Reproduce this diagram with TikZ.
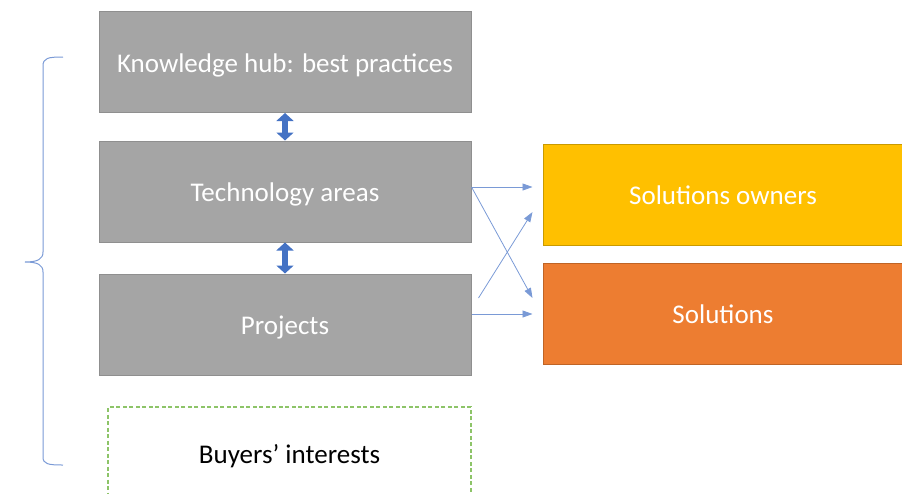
\documentclass[tikz,border=0pt]{standalone}
\usepackage{fontspec}
\setmainfont{Carlito}
\usetikzlibrary{arrows.meta}
\definecolor{boxgray}{HTML}{A5A5A5}
\definecolor{boxgrayb}{HTML}{8F8F8F}
\definecolor{gold}{HTML}{FFC000}
\definecolor{goldb}{HTML}{C99A00}
\definecolor{orng}{HTML}{ED7D31}
\definecolor{orngb}{HTML}{BF6426}
\definecolor{blu}{HTML}{4472C4}
\definecolor{bluline}{HTML}{7A9AD6}
\definecolor{grn}{HTML}{8DC468}
\tikzset{
  txt/.style={text height=22pt, text depth=1.4pt, font=\fontsize{27}{31}\selectfont},
  box/.style={rectangle, minimum width=372pt, minimum height=101pt, inner sep=0pt, txt},
  graybox/.style={box, fill=boxgray, draw=boxgrayb, line width=1pt, text=white},
  colbox/.style={rectangle, minimum width=360pt, minimum height=101pt, inner sep=0pt, text=white, line width=1pt, txt},
  dblarrow/.style={line width=6.5pt, draw=blu, {Triangle[width=17pt,length=8pt]}-{Triangle[width=17pt,length=8pt]}},
  thinarrow/.style={draw=bluline, line width=0.8pt, -{Triangle[width=7pt,length=10pt]}, color=bluline},
}
\begin{document}
\begin{tikzpicture}[x=1pt,y=-1pt]
\useasboundingbox (0,0) rectangle (902,493);
\clip (0,0) rectangle (902,493);
\node[graybox] (kh) at (285,62) {Knowledge hub: best practices};
\node[graybox] (ta) at (285,191.5) {Technology areas};
\node[graybox] (pr) at (285,324.5) {Projects};
\node[box, draw=grn, dash pattern=on 4pt off 2.5pt, line width=1.3pt, minimum width=363pt, minimum height=92pt, text=black] (bi) at (289.5,453) {Buyers’ interests};
\node[colbox, fill=gold, draw=goldb] (so) at (723,194.5) {Solutions owners};
\node[colbox, fill=orng, draw=orngb] (sl) at (723,313.5) {Solutions};
\draw[dblarrow] (kh.south) -- (ta.north);
\draw[dblarrow] (ta.south) -- (pr.north);
\coordinate (a1s) at (ta.east |- 0,187);
\coordinate (a1e) at ([xshift=-10pt]so.west |- 0,187);
\coordinate (a2e) at ([xshift=-10pt]sl.west |- 0,298);
\coordinate (a3s) at ([xshift=7pt]pr.east |- 0,298);
\coordinate (a3e) at ([xshift=-10pt]so.west |- 0,212);
\coordinate (a4s) at (pr.east |- 0,314);
\coordinate (a4e) at ([xshift=-10pt]sl.west |- 0,314);
\draw[thinarrow] (a1s) -- (a1e);
\draw[thinarrow] (a1s) -- (a2e);
\draw[thinarrow] (a3s) -- (a3e);
\draw[thinarrow] (a4s) -- (a4e);
\coordinate (brtop) at (63,57);
\coordinate (brbot) at (63,465);
\coordinate (brtip) at (25,262);
\draw[bluline, line width=1pt] (brtop) .. controls (48,57) and (43,58) .. (43,66) -- (43,252) .. controls (43,259) and (38,262) .. (brtip) .. controls (38,262) and (43,265) .. (43,272) -- (43,457) .. controls (43,464) and (48,465) .. (brbot);
\end{tikzpicture}
\end{document}
